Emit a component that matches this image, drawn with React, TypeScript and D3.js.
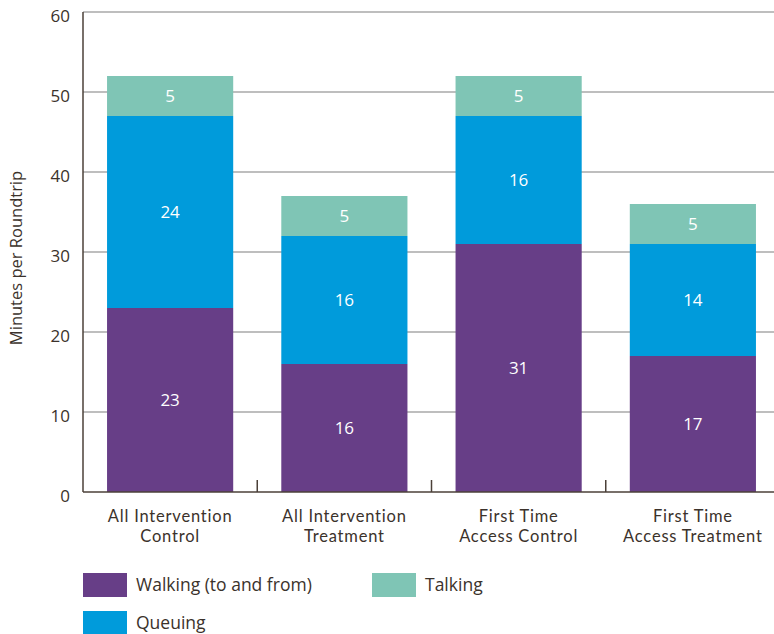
import React from 'react';
import * as d3 from 'd3';

const categories = [
  ['All Intervention', 'Control'],
  ['All Intervention', 'Treatment'],
  ['First Time', 'Access Control'],
  ['First Time', 'Access Treatment'],
];
const walking = [23, 16, 31, 17];
const queuing = [24, 16, 16, 14];
const talking = [5, 5, 5, 5];
const yTicks = [0, 10, 20, 30, 40, 50, 60];

const series = [
  { name: 'Walking (to and from)', values: walking, color: '#673e87' },
  { name: 'Queuing', values: queuing, color: '#009bdb' },
  { name: 'Talking', values: talking, color: '#7fc5b5' },
];

const W = 774;
const H = 634;
const font = '"Open Sans", Lato, sans-serif';
const textColor = '#3b322b';

export default function App() {
  const left = 83;
  const top = 12;
  const bottom = 492;

  const x = d3.scaleBand<number>()
    .domain(d3.range(categories.length))
    .range([left, 780])
    .padding(0);
  const barW = x.bandwidth() * 0.724;

  const y = d3.scaleLinear().domain([0, 60]).range([bottom, top]);

  const stack = d3.stack<number>()
    .keys(series.map((s, i) => String(i)))
    .value((d, key) => series[+key].values[d]);
  const stacked = stack(d3.range(categories.length));

  return (
    <svg width={W} height={H} style={{ position: 'absolute', left: 0, top: 0 }} fontFamily={font}>
      {/* gridlines */}
      {yTicks.filter(t => t > 0).map(t => (
        <line key={t} x1={left} x2={W} y1={y(t)} y2={y(t)} stroke="#a9a9a9" strokeWidth={1.5} />
      ))}

      {/* bars */}
      {stacked.map((layer, si) => (
        <g key={si} fill={series[si].color}>
          {layer.map((d, ci) => {
            const bx = x(ci)! + (x.bandwidth() - barW) / 2;
            return (
              <rect key={ci} x={bx} width={barW} y={y(d[1])} height={y(d[0]) - y(d[1])} />
            );
          })}
        </g>
      ))}

      {/* value labels */}
      {stacked.map((layer, si) => (
        <g key={'l' + si}>
          {layer.map((d, ci) => (
            <text key={ci} x={x(ci)! + x.bandwidth() / 2} y={y((d[0] + d[1]) / 2)}
              dy="0.35em" textAnchor="middle" fill="#fff" fontSize={17}>
              {series[si].values[ci]}
            </text>
          ))}
        </g>
      ))}

      {/* axes */}
      <line x1={left} x2={left} y1={top} y2={bottom} stroke="#4b4038" strokeWidth={1.5} />
      <line x1={left} x2={W} y1={bottom} y2={bottom} stroke="#4b4038" strokeWidth={1.5} />
      {d3.range(1, categories.length).map(i => (
        <line key={i} x1={x(i)} x2={x(i)} y1={bottom - 12} y2={bottom} stroke="#4b4038" strokeWidth={1.5} />
      ))}

      {yTicks.map(t => (
        <text key={t} x={70} y={y(t) + 4} dy="0.35em" textAnchor="end" fill={textColor} fontSize={17}>
          {t}
        </text>
      ))}

      <text transform={`translate(22,${(top + bottom) / 2 + 6}) rotate(-90)`} textAnchor="middle"
        fill={textColor} fontSize={16.5}>
        Minutes per Roundtrip
      </text>

      {categories.map((lines, i) => (
        <text key={i} x={x(i)! + x.bandwidth() / 2} textAnchor="middle" fill={textColor}
          fontSize={16.5} fontFamily="Lato, sans-serif" letterSpacing={0.8}>
          {lines.map((l, j) => (
            <tspan key={j} x={x(i)! + x.bandwidth() / 2} y={522 + j * 20}>{l}</tspan>
          ))}
        </text>
      ))}

      {/* legend */}
      {[
        { s: series[0], lx: 83, ly: 573 },
        { s: series[2], lx: 372, ly: 573 },
        { s: series[1], lx: 83, ly: 611 },
      ].map(({ s, lx, ly }) => (
        <g key={s.name}>
          <rect x={lx} y={ly} width={44} height={24} fill={s.color} />
          <text x={lx + 53} y={ly + 12} dy="0.35em" fill={textColor} fontSize={17.5}>{s.name}</text>
        </g>
      ))}
    </svg>
  );
}
